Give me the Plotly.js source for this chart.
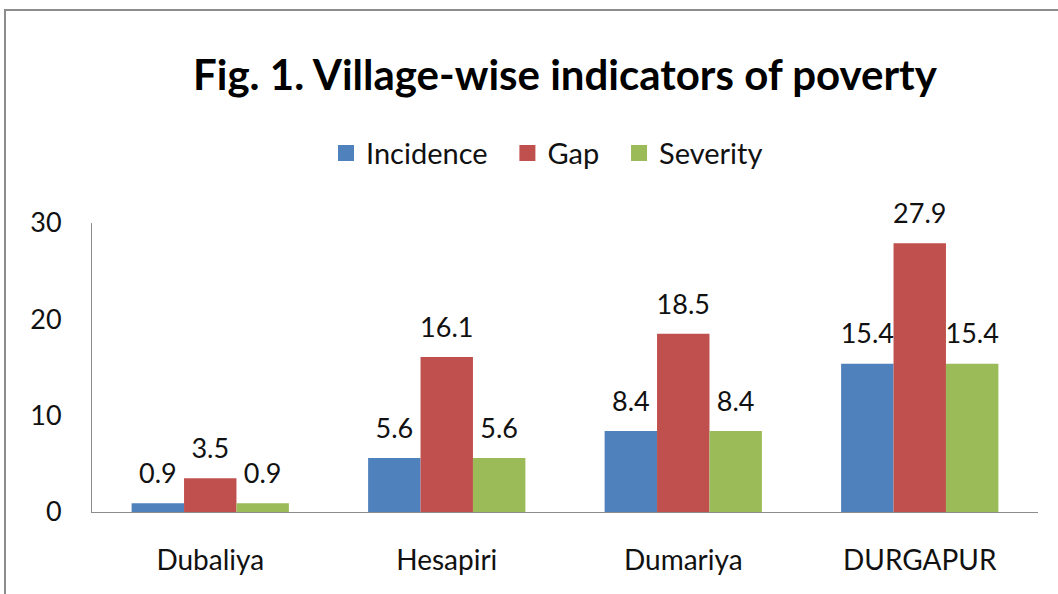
<!DOCTYPE html>
<html>
<head>
<meta charset="utf-8">
<script src="https://cdn.plot.ly/plotly-3.0.1.min.js"></script>
<style>
  html, body { margin: 0; padding: 0; background: #ffffff; overflow: hidden; }
  #frame { position: absolute; left: 4px; top: 9px; width: 2000px; height: 2000px;
           border-left: 2px solid #8c8c8c; border-top: 2px solid #8c8c8c; }
  #chart { position: absolute; left: 0; top: 0; width: 1058px; height: 594px; }
</style>
</head>
<body>
<div id="frame"></div>
<div id="chart"></div>
<script>
const villages = ["Dubaliya", "Hesapiri", "Dumariya", "DURGAPUR"];
const incidence = [0.9, 5.6, 8.4, 15.4];
const gap = [3.5, 16.1, 18.5, 27.9];
const severity = [0.9, 5.6, 8.4, 15.4];
const seriesNames = ["Incidence", "Gap", "Severity"];
const seriesColors = ["#4F81BD", "#C0504D", "#9BBB59"];
const yTicks = [0, 10, 20, 30];

const FONT = "Lato, 'Open Sans', sans-serif";
const TXT = "#111111";
const allSeries = [incidence, gap, severity];

const barTraces = allSeries.map((vals, i) => ({
  type: "bar",
  name: seriesNames[i],
  x: villages,
  y: vals,
  marker: { color: seriesColors[i], line: { width: 0 } },
  showlegend: false,
  hoverinfo: "skip"
}));

const labelTraces = allSeries.map((vals, i) => ({
  type: "scatter",
  mode: "markers+text",
  x: villages,
  y: vals,
  text: vals.map(v => v.toFixed(1)),
  textposition: "top center",
  textfont: { family: FONT, size: 27, color: TXT },
  marker: { size: 20, opacity: 0 },
  showlegend: false,
  cliponaxis: false,
  hoverinfo: "skip"
}));

// legend-only entries (square swatches), on a separate hidden subplot
const legendTraces = seriesNames.map((name, i) => ({
  type: "scatter",
  mode: "markers",
  name: i < seriesNames.length - 1 ? name + "  " : name,
  x: [null],
  y: [null],
  xaxis: "x2",
  yaxis: "y2",
  marker: { symbol: "square", size: 17, color: seriesColors[i] },
  hoverinfo: "skip"
}));

const layout = {
  width: 1058,
  height: 594,
  paper_bgcolor: "rgba(0,0,0,0)",
  plot_bgcolor: "rgba(0,0,0,0)",
  margin: { l: 92, r: 20, t: 223, b: 82 },
  barmode: "group",
  bargap: 0.335,
  bargroupgap: 0,
  scattermode: "group",
  scattergap: 0.335,
  font: { family: FONT, color: TXT },
  title: {
    text: "<b>Fig. 1. Village-wise indicators of poverty</b>",
    font: { family: FONT, size: 42, color: "#000000" },
    x: 0.534, xanchor: "center",
    y: 0.874, yanchor: "middle"
  },
  legend: {
    orientation: "h",
    x: 0.481, xanchor: "center",
    y: 1.242, yanchor: "middle",
    font: { family: FONT, size: 29, color: TXT },
    itemwidth: 30,
    tracegroupgap: 0
  },
  xaxis: {
    type: "category",
    showline: true,
    linecolor: "#8c8c8c",
    linewidth: 1,
    ticks: "",
    showgrid: false,
    zeroline: false,
    ticklabelstandoff: 23,
    tickfont: { family: FONT, size: 28, color: TXT }
  },
  yaxis: {
    range: [0, 30],
    tickvals: yTicks,
    ticktext: yTicks.map(String),
    showline: true,
    linecolor: "#8c8c8c",
    linewidth: 1,
    ticks: "",
    showgrid: false,
    zeroline: false,
    ticklabelstandoff: 24,
    tickfont: { family: FONT, size: 27, color: TXT }
  },
  xaxis2: { visible: false, overlaying: "x", range: [0, 1] },
  yaxis2: { visible: false, overlaying: "y", range: [0, 1] },
  showlegend: true
};

Plotly.newPlot("chart", barTraces.concat(labelTraces, legendTraces), layout, { displayModeBar: false, staticPlot: true });
</script>
</body>
</html>
